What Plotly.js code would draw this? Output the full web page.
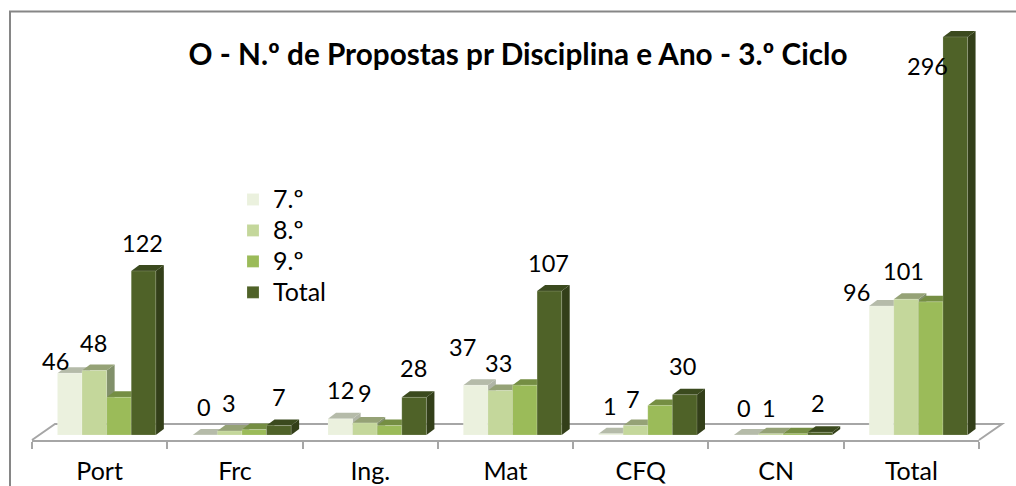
<!DOCTYPE html>
<html>
<head>
<meta charset="utf-8">
<script src="https://cdn.plot.ly/plotly-3.0.1.min.js"></script>
<style>html,body{margin:0;padding:0;background:#fff;overflow:hidden}</style>
</head>
<body>
<div id="chart" style="width:1016px;height:486px"></div>
<script>
const categories = ["Port", "Frc", "Ing.", "Mat", "CFQ", "CN", "Total"];
const seriesNames = ["7.º", "8.º", "9.º", "Total"];
const values7 = [46, 0, 12, 37, 1, 0, 96];
const values8 = [48, 3, 9, 33, 7, 1, 101];
const values9 = [28, 4, 7, 37, 22, 1, 99];
const valuesTotal = [122, 7, 28, 107, 30, 2, 296];
const titleText = "O - N.º de Propostas pr Disciplina e Ano - 3.º Ciclo";

// hand-placed label nudges in the reference, in px (x, up)
const nudge7 = [[-14,12],[-1,28],[0,29],[-13,38],[-1,28],[-2,27],[-25,14]];
const nudge8 = [[-1,27],[-1,28],[0,30],[-2,28],[-2,27],[-2,26],[-3,28]];
const nudgeTotal = [[-1,28],[0,29],[-1,29],[-1,28],[-2,29],[-2,29],[-28,-29]];

const series = [values7, values8, values9, valuesTotal];
const nudges = [nudge7, nudge8, null, nudgeTotal];
const front = ["#EBF1DE", "#C4D79B", "#9BBB59", "#4F6228"];
const topFace = ["#B5BBA9", "#95A276", "#758E43", "#3B4A1E"];
const sideFace = ["#B0B5A6", "#81906A", "#6B8240", "#333F19"];

const W = 1016, H = 486, plotL = 32, plotR = 979, plotB = 440;
const pxUnitX = (plotR - plotL) / 7, pxUnitY = 1.345;
const barW = 24.6 / pxUnitX, groupStart = -42.2 / pxUnitX;
const depthX = 8 / pxUnitX, depthY = 6 / pxUnitY;
const FONT = "Lato, Carlito, sans-serif";
const TEXT_SIZE = 25, LABEL_SIZE = 23.5;

const traces = series.map((vals, s) => ({
  type: "bar", name: `<span style="font-size:${TEXT_SIZE}px">${seriesNames[s]}</span>`, x: categories, y: vals,
  width: barW, offset: groupStart + s * barW,
  marker: {color: front[s], line: {color: "rgba(255,255,255,0.35)", width: 0.5}},
  hoverinfo: "skip"
}));

const px = x => (x - plotL) / (plotR - plotL);
const py = y => 1 - y / plotB;
const shapes = [
  {type: "path", xref: "paper", yref: "paper", layer: "below",
   path: `M${px(32)},${py(440)} L${px(55)},${py(424)} L${px(1002)},${py(424)} L${px(979)},${py(440)}`,
   line: {color: "#A6A6A6", width: 2}},
  {type: "path", xref: "paper", yref: "paper", layer: "below",
   path: `M${px(10)},${py(490)} L${px(10)},${py(11.5)} L${px(1020)},${py(11.5)}`,
   line: {color: "#868686", width: 2}}
];
series.forEach((vals, s) => vals.forEach((v, i) => {
  const x0 = i + groupStart + s * barW, x1 = x0 + barW;
  shapes.push({type: "path", xref: "x", yref: "y", layer: "below", line: {width: 0}, fillcolor: sideFace[s],
    path: `M${x1},0 L${x1 + depthX},${depthY} L${x1 + depthX},${v + depthY} L${x1},${v} Z`});
  shapes.push({type: "path", xref: "x", yref: "y", layer: "below", line: {width: 0}, fillcolor: topFace[s],
    path: `M${x0},${v} L${x0 + depthX},${v + depthY} L${x1 + depthX},${v + depthY} L${x1},${v} Z`});
}));

const annotations = [];
series.forEach((vals, s) => {
  if (!nudges[s]) return;
  vals.forEach((v, i) => annotations.push({
    x: i + groupStart + (s + 0.5) * barW, y: v, xref: "x", yref: "y",
    text: String(v), showarrow: false, xanchor: "center", yanchor: "middle",
    xshift: nudges[s][i][0], yshift: nudges[s][i][1],
    font: {family: FONT, size: LABEL_SIZE, color: "#000"}
  }));
});

const layout = {
  width: W, height: H, paper_bgcolor: "#fff", plot_bgcolor: "rgba(0,0,0,0)",
  margin: {l: plotL, r: W - plotR, t: 0, b: H - plotB, autoexpand: false},
  barmode: "overlay", shapes, annotations,
  title: {text: "<b>" + titleText + "</b>", x: 518 / W, xanchor: "center", xref: "container",
          y: 1 - 55 / H, yanchor: "middle", yref: "container",
          font: {family: FONT, size: 29.7, color: "#000"}},
  xaxis: {type: "category", categories, categoryorder: "array", categoryarray: categories,
          range: [-0.5, 6.5], tickson: "boundaries", ticks: "outside", ticklen: 7, tickwidth: 2,
          tickcolor: "#A6A6A6", showline: true, linecolor: "#A6A6A6", linewidth: 2, showgrid: false,
          zeroline: false, ticklabelstandoff: 8,
          tickfont: {family: FONT, size: TEXT_SIZE, color: "#000"}, fixedrange: true},
  yaxis: {visible: false, range: [-5 / pxUnitY, 435 / pxUnitY], fixedrange: true},
  legend: {x: px(233), xanchor: "left", xref: "paper", y: py(179), yanchor: "top", yref: "paper",
           bgcolor: "rgba(0,0,0,0)", font: {family: FONT, size: 21.5, color: "#000"},
           traceorder: "normal", tracegroupgap: 0}
};
Plotly.newPlot("chart", traces, layout, {displayModeBar: false, staticPlot: true});
</script>
</body>
</html>
